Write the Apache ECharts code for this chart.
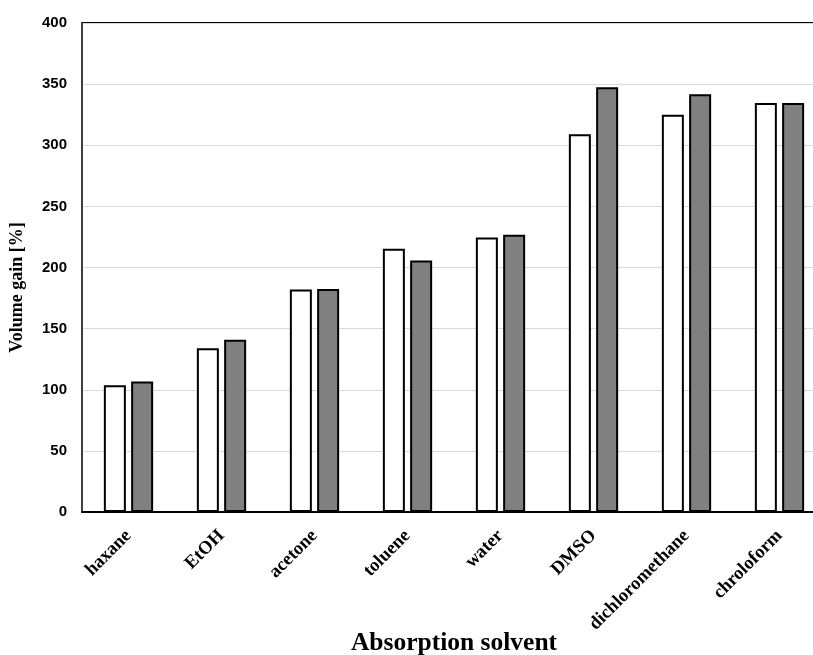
<!DOCTYPE html>
<html><head><meta charset="utf-8">
<script src="https://cdn.jsdelivr.net/npm/echarts@6/dist/echarts.min.js"></script>
<style>html,body{margin:0;padding:0;background:#fff}#c{width:813px;height:655px}</style>
</head><body><div id="c"></div>
<script>
var categories = ['haxane','EtOH','acetone','toluene','water','DMSO','dichloromethane','chroloform'];
var seriesA = [103.6, 134, 182, 215.3, 224.5, 309, 325, 334.5];
var seriesB = [106.8, 141, 182.5, 205.7, 226.8, 347.5, 341.7, 334.5];
var yTicks = {min: 0, max: 400, interval: 50};

var chart = echarts.init(document.getElementById('c'), null, {renderer: 'canvas'});
chart.setOption({
  animation: false,
  backgroundColor: '#fff',
  grid: {left: 82, width: 744, top: 23, height: 489, show: true, borderColor: '#000', borderWidth: 2,
         backgroundColor: 'transparent', containLabel: false, outerBoundsMode: 'none'},
  xAxis: {
    type: 'category', data: categories,
    name: 'Absorption solvent', nameLocation: 'middle', nameGap: 118, nameMoveOverlap: false,
    nameTextStyle: {fontFamily: 'Liberation Serif', fontWeight: 'bold', fontSize: 25.5, color: '#000'},
    axisLine: {lineStyle: {color: '#000', width: 2}},
    axisTick: {show: false},
    axisLabel: {rotate: 45, margin: 21, fontFamily: 'Liberation Serif', fontWeight: 'bold', fontSize: 18.5, color: '#000', interval: 0}
  },
  yAxis: {
    type: 'value', min: yTicks.min, max: yTicks.max, interval: yTicks.interval,
    name: 'Volume gain [%]', nameLocation: 'middle', nameGap: 56, nameRotate: 90, nameMoveOverlap: false,
    nameTextStyle: {fontFamily: 'Liberation Serif', fontWeight: 'bold', fontSize: 18, color: '#000', padding: [0, 40, 0, 0]},
    axisLine: {show: true, lineStyle: {color: '#404040', width: 2}},
    axisTick: {show: false},
    axisLabel: {fontFamily: 'Liberation Sans', fontWeight: 'bold', fontSize: 15, color: '#000', margin: 15},
    splitLine: {lineStyle: {color: '#d9d9d9', width: 1}}
  },
  series: [
    {type: 'bar', data: seriesA, barWidth: 22, barGap: '24%',
     itemStyle: {color: '#ffffff', borderColor: '#000', borderWidth: 2}},
    {type: 'bar', data: seriesB, barWidth: 22,
     itemStyle: {color: '#808080', borderColor: '#000', borderWidth: 2}}
  ]
});
</script></body></html>
